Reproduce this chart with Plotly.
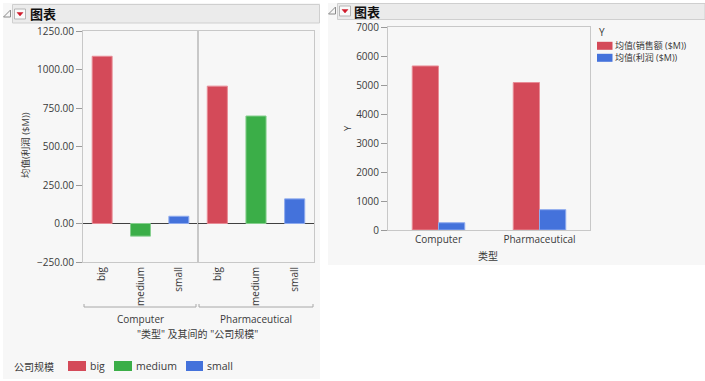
import plotly.graph_objects as go

W, H = 705, 381
def px(x): return x / W
def py(y): return 1 - y / H

# ---- data ----
types = ["Computer", "Pharmaceutical"]
sizes = ["big", "medium", "small"]
profit_big = [1086, 892]
profit_medium = [-82, 698]
profit_small = [47, 160]
sales_mean = [5656, 5085]
profit_mean = [250, 700]
left_ticks = [-250, 0, 250, 500, 750, 1000, 1250]
right_ticks = [0, 1000, 2000, 3000, 4000, 5000, 6000, 7000]
series_names = ["均值(销售额 ($M))", "均值(利润 ($M))"]

RED, GREEN, BLUE = "#D44A59", "#3BAE48", "#4472DB"
RED_L, GREEN_L, BLUE_L = "#E88C96", "#86CF8E", "#8EAAEE"
FONT = "Segoe UI, Open Sans, Noto Sans CJK SC, sans-serif"
TXT = "#3A3A3A"
FRAME = "#C8C8C8"
FS = 10

fig = go.Figure()

size_vals = [profit_big, profit_medium, profit_small]
size_cols = [(RED, RED_L), (GREEN, GREEN_L), (BLUE, BLUE_L)]
for s, vals, (c, cl) in zip(sizes, size_vals, size_cols):
    for j, t in enumerate(types):
        fig.add_trace(go.Bar(
            x=[s], y=[vals[j]], xaxis="x" if j == 0 else "x2",
            yaxis="y" if j == 0 else "y2",
            name=s, legendgroup=s, showlegend=False,
            offsetgroup="L", marker=dict(color=c, line=dict(color=cl, width=1)),
            hoverinfo="skip"))

fig.add_trace(go.Bar(x=types, y=sales_mean, xaxis="x3", yaxis="y3",
                     name=series_names[0], showlegend=False,
                     marker=dict(color=RED, line=dict(color=RED_L, width=1))))
fig.add_trace(go.Bar(x=types, y=profit_mean, xaxis="x3", yaxis="y3",
                     name=series_names[1], showlegend=False,
                     marker=dict(color=BLUE, line=dict(color=BLUE_L, width=1))))

tf = dict(family=FONT, size=FS, color=TXT)
xcommon = dict(showline=True, linecolor=FRAME, linewidth=1, mirror=True,
               ticks="", showgrid=False, zeroline=False, fixedrange=True,
               automargin=False, tickfont=tf)
ydom = [py(262), py(31)]
fig.update_layout(
    width=W, height=H, margin=dict(l=0, r=0, t=0, b=0, autoexpand=False),
    paper_bgcolor="white", plot_bgcolor="white",
    barmode="group", bargap=0.48, bargroupgap=0, showlegend=False,
    font=tf,
    xaxis=dict(domain=[px(83), px(198)], anchor="y", categoryorder="array",
               categoryarray=sizes, tickangle=-90, **xcommon),
    xaxis2=dict(domain=[px(198), px(314)], anchor="y2", categoryorder="array",
                categoryarray=sizes, tickangle=-90, **xcommon),
    yaxis=dict(domain=ydom, anchor="x", range=[-250, 1250],
               tickvals=left_ticks, tickformat=".2f", ticks="outside", ticklen=6,
               tickcolor="#9A9A9A", showline=True, linecolor=FRAME, mirror=True,
               zeroline=True, zerolinecolor="#404040", zerolinewidth=1,
               showgrid=False, fixedrange=True, automargin=False, tickfont=tf),
    yaxis2=dict(domain=ydom, anchor="x2", matches="y", range=[-250, 1250],
                showticklabels=False, ticks="", showline=True, linecolor=FRAME,
                mirror=True, zeroline=True, zerolinecolor="#404040", zerolinewidth=1,
                showgrid=False, fixedrange=True, automargin=False),
    xaxis3=dict(domain=[px(388), px(590)], anchor="y3", **xcommon),
    yaxis3=dict(domain=[py(230), py(27)], anchor="x3", range=[0, 7000],
                tickvals=right_ticks, ticks="outside", ticklen=6,
                tickcolor="#9A9A9A", showline=True, linecolor=FRAME, mirror=True,
                zeroline=False, showgrid=False, fixedrange=True, automargin=False,
                tickfont=tf),
)

shapes = []
# gray panels
shapes.append(dict(type="rect", xref="paper", yref="paper", x0=px(3), x1=px(320),
                   y0=py(379), y1=py(3), fillcolor="#F7F7F7", line=dict(width=0), layer="below"))
shapes.append(dict(type="rect", xref="paper", yref="paper", x0=px(328), x1=px(705),
                   y0=py(265), y1=py(3), fillcolor="#F7F7F7", line=dict(width=0), layer="below"))
# header bars
shapes.append(dict(type="rect", xref="paper", yref="paper", x0=px(12.5), x1=px(319.5),
                   y0=py(23), y1=py(4.5), fillcolor="#EBEBEB", line=dict(color="#CFCFCF", width=1), layer="below"))
shapes.append(dict(type="rect", xref="paper", yref="paper", x0=px(337.5), x1=px(705),
                   y0=py(19.5), y1=py(3.5), fillcolor="#EBEBEB", line=dict(color="#CFCFCF", width=1), layer="below"))

def icon(x0, ytop):
    out = []
    out.append(dict(type="path", xref="paper", yref="paper",
                    path=f"M {px(x0)} {py(ytop+8)} L {px(x0+7)} {py(ytop+8)} L {px(x0+7)} {py(ytop+1)} Z",
                    fillcolor="rgba(0,0,0,0)", line=dict(color="#8A8A8A", width=1)))
    bx = x0 + 11
    out.append(dict(type="rect", xref="paper", yref="paper", x0=px(bx), x1=px(bx + 11),
                    y0=py(ytop + 10), y1=py(ytop), fillcolor="#FAFAFA",
                    line=dict(color="#B5B5B5", width=1)))
    out.append(dict(type="path", xref="paper", yref="paper",
                    path=f"M {px(bx+2.5)} {py(ytop+3.5)} L {px(bx+8.5)} {py(ytop+3.5)} L {px(bx+5.5)} {py(ytop+7)} Z",
                    fillcolor="#D01C2C", line=dict(color="#D01C2C", width=0.5)))
    return out

shapes += icon(3.5, 9)
shapes += icon(328.5, 6)

# brackets under group labels
for a, b in [(84, 196), (199, 313)]:
    shapes.append(dict(type="path", xref="paper", yref="paper",
                       path=f"M {px(a)} {py(304)} L {px(a)} {py(307)} L {px(b)} {py(307)} L {px(b)} {py(304)}",
                       line=dict(color="#A8A8A8", width=1)))

ann = [
    dict(text="<b>图表</b>", x=px(28), y=py(13.5), xanchor="left", font=dict(size=13, color="#111")),
    dict(text="<b>图表</b>", x=px(352), y=py(11.5), xanchor="left", font=dict(size=13, color="#111")),
    dict(text=types[0], x=px(140), y=py(319)),
    dict(text=types[1], x=px(256), y=py(319)),
    dict(text="\"类型\" 及其间的 \"公司规模\"", x=px(197), y=py(334)),
    dict(text="均值(利润 ($M))", x=px(25), y=py(145), textangle=-90, font=dict(size=9.5, color=TXT)),
    dict(text="Y", x=px(347), y=py(128), textangle=-90, font=dict(size=9.5, color=TXT)),
    dict(text="类型", x=px(488), y=py(256)),
    dict(text="公司规模", x=px(12), y=py(367), xanchor="left"),
    dict(text="Y", x=px(597), y=py(32), xanchor="left"),
]

leg_left_x = [(68, 86), (114, 132), (186, 203)]
for s, (c, cl), (a, b) in zip(sizes, size_cols, leg_left_x):
    shapes.append(dict(type="rect", xref="paper", yref="paper", x0=px(a), x1=px(b),
                       y0=py(371), y1=py(361), fillcolor=c, line=dict(width=0)))
    ann.append(dict(text=s, x=px(b + 2), y=py(366), xanchor="left", font=dict(size=10.5, color=TXT)))

for k, (name, c) in enumerate(zip(series_names, [RED, BLUE])):
    yc = 45.8 + 12 * k
    shapes.append(dict(type="rect", xref="paper", yref="paper", x0=px(597), x1=px(612.5),
                       y0=py(yc + 4), y1=py(yc - 4), fillcolor=c, line=dict(width=0)))
    ann.append(dict(text=name, x=px(614), y=py(yc), xanchor="left", borderpad=0,
                    font=dict(size=9, color=TXT)))

for a in ann:
    a.update(xref="paper", yref="paper", showarrow=False, yanchor="middle")
    a.setdefault("xanchor", "center")
    a.setdefault("font", tf)
fig.update_layout(shapes=shapes, annotations=ann)

fig.write_html("out.html", config={"displayModeBar": False},
               post_script="document.body.style.margin='0';document.body.style.overflow='hidden';")
